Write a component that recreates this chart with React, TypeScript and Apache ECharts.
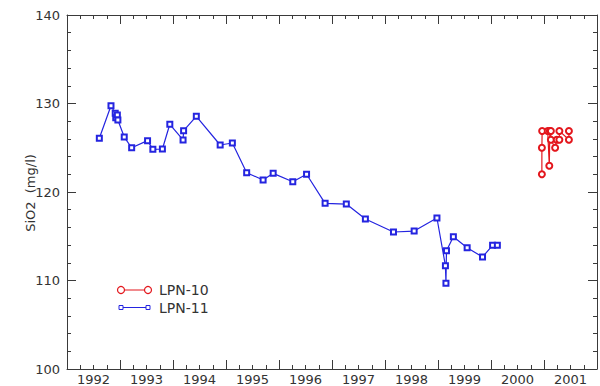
import React, { useEffect, useRef } from "react";
import * as echarts from "echarts";

const lpn11Years = [
  1992.61, 1992.83, 1992.91, 1992.92, 1992.95, 1992.96, 1993.08, 1993.22, 1993.52, 1993.62,
  1993.8, 1993.94, 1994.19, 1994.2, 1994.44, 1994.89, 1995.12, 1995.39, 1995.7, 1995.89,
  1996.26, 1996.52, 1996.87, 1997.27, 1997.63, 1998.16, 1998.55, 1998.98, 1999.14, 1999.15,
  1999.16, 1999.29, 1999.55, 1999.84, 2000.03, 2000.12,
];
const lpn11Values = [
  126.07, 129.75, 128.89, 128.4, 128.7, 128.14, 126.21, 125.0, 125.8, 124.82,
  124.86, 127.65, 125.88, 126.93, 128.55, 125.31, 125.54, 122.18, 121.36, 122.11,
  121.16, 122.0, 118.72, 118.64, 116.95, 115.48, 115.59, 117.06, 111.67, 109.68,
  113.37, 114.95, 113.7, 112.66, 113.98, 113.98,
];

const lpn10Years = [
  2000.96, 2000.96, 2000.965, 2001.07, 2001.1, 2001.11, 2001.13, 2001.13, 2001.21, 2001.24,
  2001.29, 2001.29, 2001.47, 2001.47,
];
const lpn10Values = [
  122.0, 125.0, 126.9, 126.9, 122.97, 126.9, 126.9, 125.9, 125.0, 125.9,
  125.9, 126.9, 125.9, 126.9,
];

const seriesNames = ["LPN-10", "LPN-11"];
const yTitle = "SiO2  (mg/l)";

const RED = "#e3161c";
const BLUE = "#2424e0";
const AXIS = "#3a3a3a";
const FONT = "DejaVu Sans";

export default function App() {
  const ref = useRef<HTMLDivElement>(null);
  useEffect(() => {
    if (!ref.current) return;
    const chart = echarts.init(ref.current, undefined, { renderer: "svg" });
    const frameX = (position: string) => ({
      type: "value",
      position,
      min: 1992,
      max: 2002,
      interval: 1,
      axisLine: { show: true, onZero: false, lineStyle: { color: AXIS, width: 1 } },
      axisTick: { show: true, inside: true, length: 9, lineStyle: { color: AXIS } },
      minorTick: { show: true, splitNumber: 4, length: 4, lineStyle: { color: AXIS } },
      axisLabel: { show: false },
      splitLine: { show: false },
      minorSplitLine: { show: false },
    });
    const frameY = (position: string, labels: boolean) => ({
      type: "value",
      position,
      min: 100,
      max: 140,
      interval: 10,
      axisLine: { show: true, onZero: false, lineStyle: { color: AXIS, width: 1 } },
      axisTick: { show: true, inside: true, length: 9, lineStyle: { color: AXIS } },
      minorTick: { show: true, splitNumber: 5, length: 4, lineStyle: { color: AXIS } },
      axisLabel: labels
        ? { show: true, margin: 7, fontFamily: FONT, fontSize: 13, color: "#333" }
        : { show: false },
      splitLine: { show: false },
      minorSplitLine: { show: false },
    });
    chart.setOption({
      animation: false,
      backgroundColor: "#ffffff",
      grid: { left: 67, right: 1, top: 15, bottom: 17 },
      xAxis: [
        frameX("bottom"),
        frameX("top"),
        {
          type: "value",
          position: "bottom",
          min: 1992,
          max: 2002,
          interval: 0.5,
          axisLine: { show: false },
          axisTick: { show: false },
          splitLine: { show: false },
          axisLabel: {
            show: true,
            margin: 4,
            fontFamily: FONT,
            fontSize: 13,
            color: "#333",
            formatter: (v: number) => (Math.abs((v % 1) - 0.5) < 1e-6 ? String(Math.floor(v)) : ""),
          },
        },
      ],
      yAxis: [frameY("left", true), frameY("right", false)],
      series: [
        {
          name: seriesNames[1],
          type: "line",
          xAxisIndex: 0,
          yAxisIndex: 0,
          data: lpn11Years.map((y, i) => [y, lpn11Values[i]]),
          symbol: "emptyRect",
          symbolSize: 5,
          lineStyle: { color: BLUE, width: 1.2 },
          itemStyle: { color: BLUE, borderColor: BLUE, borderWidth: 1 },
        },
        {
          name: seriesNames[0],
          type: "line",
          xAxisIndex: 0,
          yAxisIndex: 0,
          data: lpn10Years.map((y, i) => [y, lpn10Values[i]]),
          symbol: "emptyCircle",
          symbolSize: 6,
          lineStyle: { color: RED, width: 1.2 },
          itemStyle: { color: RED, borderColor: RED, borderWidth: 1 },
        },
      ],
      graphic: [
        {
          type: "text",
          x: 30,
          y: 193,
          rotation: Math.PI / 2,
          style: {
            text: yTitle,
            fontFamily: FONT,
            fontSize: 13,
            fill: "#333",
            align: "center",
            verticalAlign: "middle",
          },
        },
        { type: "line", shape: { x1: 121, y1: 290, x2: 148, y2: 290 }, style: { stroke: RED, lineWidth: 1 } },
        { type: "circle", shape: { cx: 121, cy: 290, r: 3.5 }, style: { fill: "#fff", stroke: RED, lineWidth: 1.2 } },
        { type: "circle", shape: { cx: 148, cy: 290, r: 3.5 }, style: { fill: "#fff", stroke: RED, lineWidth: 1.2 } },
        {
          type: "text",
          x: 159,
          y: 290,
          style: { text: seriesNames[0], fontFamily: FONT, fontSize: 14, fill: "#333", verticalAlign: "middle" },
        },
        { type: "line", shape: { x1: 121, y1: 307.5, x2: 148, y2: 307.5 }, style: { stroke: BLUE, lineWidth: 1 } },
        { type: "rect", shape: { x: 119, y: 305.5, width: 4, height: 4 }, style: { fill: "#fff", stroke: BLUE, lineWidth: 1 } },
        { type: "rect", shape: { x: 146, y: 305.5, width: 4, height: 4 }, style: { fill: "#fff", stroke: BLUE, lineWidth: 1 } },
        {
          type: "text",
          x: 159,
          y: 307.5,
          style: { text: seriesNames[1], fontFamily: FONT, fontSize: 14, fill: "#333", verticalAlign: "middle" },
        },
      ],
    });
    return () => chart.dispose();
  }, []);
  return <div ref={ref} style={{ position: "absolute", left: 0, top: 0, width: 600, height: 386 }} />;
}
